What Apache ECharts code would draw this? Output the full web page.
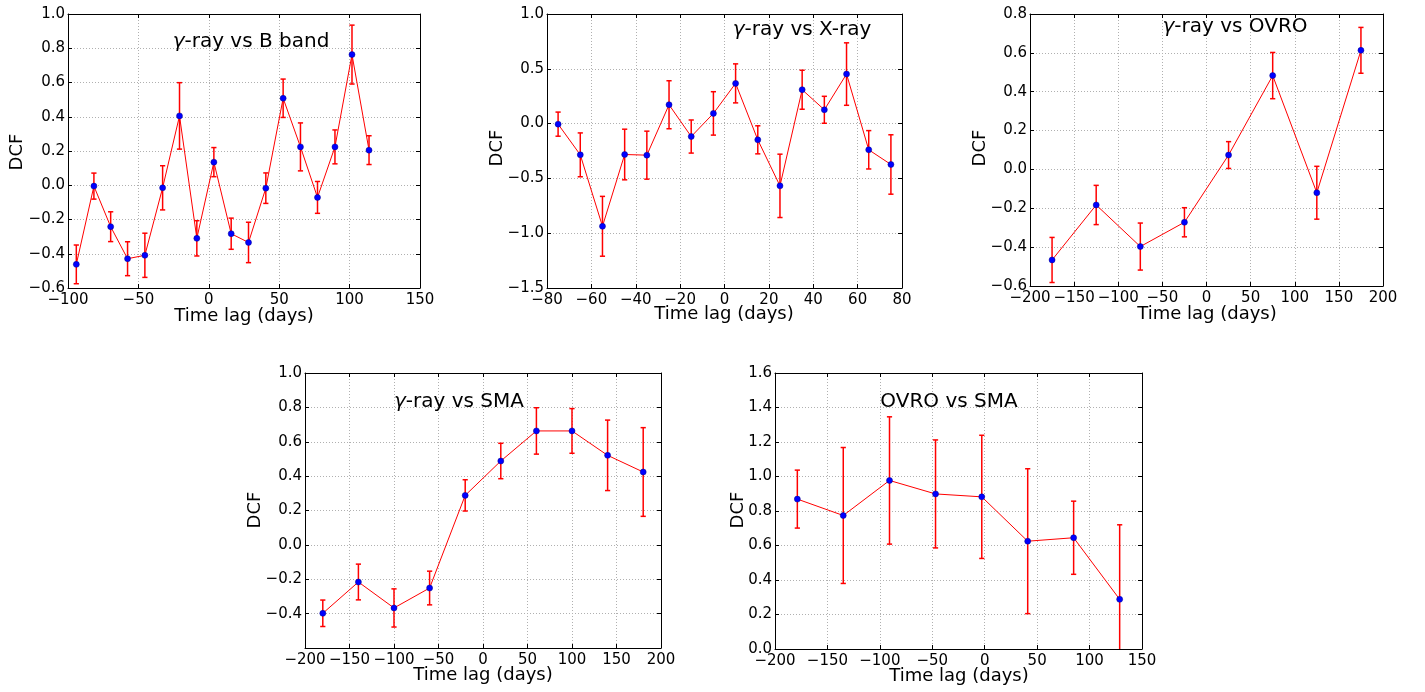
<!DOCTYPE html>
<html>
<head>
<meta charset="utf-8">
<script src="https://cdn.jsdelivr.net/npm/echarts@6/dist/echarts.min.js"></script>
<style>
html,body{margin:0;padding:0;background:#fff;}
#c{width:1425px;height:692px;}
</style>
</head>
<body>
<div id="c"></div>
<script>
// ---- Data ----
const lagB = [-94.1, -81.6, -69.7, -57.7, -45.4, -32.8, -20.8, -8.5, 3.6, 15.9, 28.2, 40.5, 52.8, 65.1, 77.2, 89.6, 101.7, 113.8];
const dcfB = [-0.462, -0.005, -0.242, -0.429, -0.409, -0.015, 0.405, -0.310, 0.135, -0.283, -0.334, -0.017, 0.508, 0.224, -0.071, 0.224, 0.763, 0.205];
const errB = [0.113, 0.076, 0.087, 0.099, 0.129, 0.129, 0.194, 0.103, 0.085, 0.091, 0.118, 0.089, 0.112, 0.140, 0.093, 0.099, 0.172, 0.084];

const lagX = [-75, -65, -55, -45, -35, -25, -15, -5, 5, 15, 25, 35, 45, 55, 65, 75];
const dcfX = [-0.005, -0.285, -0.937, -0.282, -0.288, 0.172, -0.118, 0.093, 0.367, -0.148, -0.568, 0.309, 0.126, 0.452, -0.239, -0.373];
const errX = [0.110, 0.200, 0.273, 0.231, 0.219, 0.219, 0.151, 0.198, 0.178, 0.128, 0.289, 0.178, 0.123, 0.285, 0.175, 0.271];

const lagO = [-175, -125, -75, -25, 25, 75, 125, 175];
const dcfO = [-0.466, -0.183, -0.397, -0.272, 0.074, 0.483, -0.120, 0.613];
const errO = [0.116, 0.101, 0.121, 0.075, 0.069, 0.119, 0.136, 0.118];

const lagS = [-180, -140, -100, -60, -20, 20, 60, 100, 140, 180];
const dcfS = [-0.398, -0.216, -0.367, -0.251, 0.288, 0.488, 0.663, 0.663, 0.521, 0.424];
const errS = [0.077, 0.104, 0.111, 0.098, 0.091, 0.103, 0.135, 0.130, 0.205, 0.258];

const lagOS = [-178.7, -134.9, -90.8, -46.9, -2.8, 41.0, 84.8, 128.7];
const dcfOS = [0.869, 0.774, 0.977, 0.899, 0.882, 0.625, 0.645, 0.288];
const errOS = [0.168, 0.394, 0.369, 0.313, 0.357, 0.420, 0.212, 0.432];

const titles = ['{g|γ}-ray vs B band', '{g|γ}-ray vs X-ray', '{g|γ}-ray vs OVRO', '{g|γ}-ray vs SMA', 'OVRO vs SMA'];
const xName = 'Time lag (days)';
const yName = 'DCF';

// axis ranges [min, max, interval]
const xRanges = [[-100, 150, 50], [-80, 80, 20], [-200, 200, 50], [-200, 200, 50], [-200, 150, 50]];
const yRanges = [[-0.6, 1.0, 0.2], [-1.5, 1.0, 0.5], [-0.6, 0.8, 0.2], [-0.6, 1.0, 0.2], [0.0, 1.6, 0.2]];

// ---- Layout ----
const grids = [
  {left: 68, top: 14, width: 352, height: 274},
  {left: 547, top: 14, width: 355, height: 274},
  {left: 1030, top: 14, width: 353, height: 272},
  {left: 305, top: 373, width: 356, height: 275},
  {left: 775, top: 373, width: 367, height: 276}
];
const titlePos = [[251, 42], [802, 30], [1235, 27], [459, 402], [949, 402]];
const xNamePos = [[244, 316], [724, 314], [1207, 314], [483, 675], [959, 676]];
const yNamePos = [[17, 152], [497, 148], [980, 148], [255, 510], [738, 510]];

const panels = [
  [lagB, dcfB, errB], [lagX, dcfX, errX], [lagO, dcfO, errO], [lagS, dcfS, errS], [lagOS, dcfOS, errOS]
];

const FONT = 'DejaVu Sans';
const minus = s => String(s).replace(/-/g, '\u2212');

const option = {
  animation: false,
  backgroundColor: '#fff',
  grid: [], xAxis: [], yAxis: [], series: [], graphic: []
};

panels.forEach((p, i) => {
  option.grid.push(Object.assign({containLabel: false}, grids[i]));
  const [xmin, xmax, xint] = xRanges[i];
  const [ymin, ymax, yint] = yRanges[i];
  const tick = {show: true, inside: true, length: 4, lineStyle: {color: '#000', width: 1}};
  const line = {show: true, onZero: false, lineStyle: {color: '#000', width: 1}};
  const split = {show: true, lineStyle: {color: '#b0b0b0', width: 1, type: [1, 2]}};
  option.xAxis.push({
    type: 'value', gridIndex: i, position: 'bottom', min: xmin, max: xmax, interval: xint,
    axisLine: line, axisTick: tick, splitLine: split,
    axisLabel: {show: true, margin: 5, color: '#000', fontFamily: FONT, fontSize: 15,
      showMinLabel: true, showMaxLabel: true, formatter: v => minus(Math.round(v))}
  });
  option.xAxis.push({
    type: 'value', gridIndex: i, position: 'top', min: xmin, max: xmax, interval: xint,
    axisLine: line, axisTick: tick, splitLine: {show: false}, axisLabel: {show: false}
  });
  option.yAxis.push({
    type: 'value', gridIndex: i, position: 'left', min: ymin, max: ymax, interval: yint,
    axisLine: line, axisTick: tick, splitLine: split,
    axisLabel: {show: true, margin: 3, color: '#000', fontFamily: FONT, fontSize: 15,
      showMinLabel: i !== 3, showMaxLabel: true, formatter: v => minus(v.toFixed(1))}
  });
  option.yAxis.push({
    type: 'value', gridIndex: i, position: 'right', min: ymin, max: ymax, interval: yint,
    axisLine: line, axisTick: tick, splitLine: {show: false}, axisLabel: {show: false}
  });
  const [lag, dcf, err] = p;
  const pts = lag.map((x, k) => [x, dcf[k]]);
  const ebData = lag.map((x, k) => [x, dcf[k], err[k]]);
  option.series.push({
    type: 'custom', xAxisIndex: 2 * i, yAxisIndex: 2 * i, clip: true, z: 2,
    data: ebData,
    renderItem: function (params, api) {
      const x = api.value(0), y = api.value(1), e = api.value(2);
      const top = api.coord([x, y + e]);
      const bot = api.coord([x, y - e]);
      const hw = 2.6;
      const st = {stroke: '#ff0000', lineWidth: 1.5};
      return {
        type: 'group',
        children: [
          {type: 'line', shape: {x1: top[0], y1: top[1], x2: bot[0], y2: bot[1]}, style: st},
          {type: 'line', shape: {x1: top[0] - hw, y1: top[1], x2: top[0] + hw, y2: top[1]}, style: st},
          {type: 'line', shape: {x1: bot[0] - hw, y1: bot[1], x2: bot[0] + hw, y2: bot[1]}, style: st}
        ]
      };
    }
  });
  option.series.push({
    type: 'line', xAxisIndex: 2 * i, yAxisIndex: 2 * i, z: 3,
    data: pts, symbol: 'circle', symbolSize: 6,
    itemStyle: {color: '#0000ff', borderColor: '#00008b', borderWidth: 0.5},
    lineStyle: {color: '#ff0000', width: 1}
  });
  option.graphic.push({
    type: 'text', x: titlePos[i][0], y: titlePos[i][1], z: 10,
    style: {text: titles[i], fontFamily: FONT, fontSize: 20, fill: '#000',
      align: 'center', verticalAlign: 'middle',
      rich: {g: {fontFamily: FONT, fontSize: 20, fontStyle: 'italic', fill: '#000'}}}
  });
  option.graphic.push({
    type: 'text', x: xNamePos[i][0], y: xNamePos[i][1], z: 10,
    style: {text: xName, fontFamily: FONT, fontSize: 18, fill: '#000', align: 'center', verticalAlign: 'middle'}
  });
  option.graphic.push({
    type: 'text', x: yNamePos[i][0], y: yNamePos[i][1], rotation: Math.PI / 2, z: 10,
    style: {text: yName, fontFamily: FONT, fontSize: 18, fill: '#000', align: 'center', verticalAlign: 'middle'}
  });
});

const chart = echarts.init(document.getElementById('c'), null, {renderer: 'canvas'});
chart.setOption(option);
</script>
</body>
</html>
